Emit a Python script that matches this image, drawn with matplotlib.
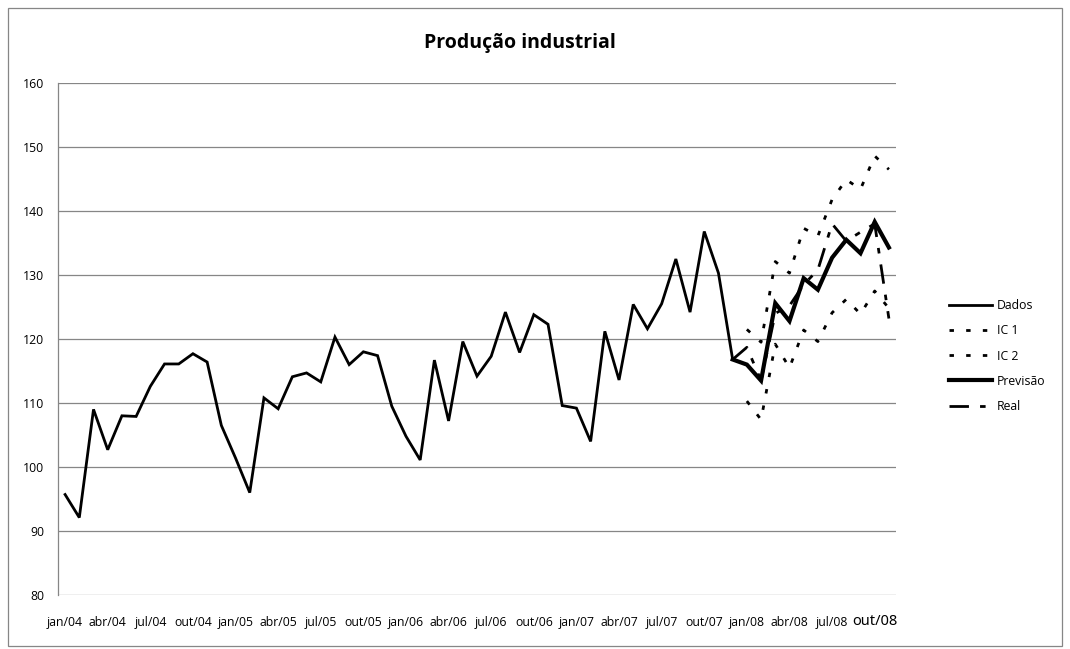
#!/usr/bin/env python3
"""
Produção industrial - dados, previsão, intervalos de confiança e valores reais
"""

import matplotlib
matplotlib.use("Agg")
import matplotlib.pyplot as plt

# months jan/04 .. nov/08 (59 categories), label every 3rd month
months = ["jan", "fev", "mar", "abr", "mai", "jun", "jul", "ago", "set", "out", "nov", "dez"]
categories = [f"{m}/{y:02d}" for y in range(4, 9) for m in months][:59]

# historical data jan/04 .. dez/07
dados = [95.7, 92.1, 109.0, 102.7, 108.0, 107.9, 112.6, 116.1, 116.1, 117.7, 116.4, 106.5,
         101.4, 96.0, 110.8, 109.1, 114.1, 114.7, 113.3, 120.3, 116.0, 118.0, 117.4, 109.5,
         104.8, 101.1, 116.7, 107.2, 119.6, 114.2, 117.3, 124.2, 117.9, 123.8, 122.3, 109.6,
         109.2, 104.0, 121.2, 113.6, 125.4, 121.6, 125.5, 132.5, 124.2, 136.8, 130.3, 116.8]

# forecast dez/07 .. nov/08
previsao = [116.8, 116.0, 113.5, 125.6, 122.8, 129.5, 127.7, 132.7, 135.5, 133.4, 138.3, 134.3]
# confidence bounds jan/08 .. nov/08
ic1 = [121.5, 119.5, 132.1, 130.3, 137.3, 136.1, 141.8, 144.9, 143.4, 148.6, 146.5]
ic2 = [110.3, 107.4, 119.2, 115.5, 121.4, 119.6, 124.1, 126.2, 123.9, 127.5, 124.8]
# actual values dez/07 .. nov/08
real = [116.8, 118.7, 113.5, 124.0, 125.2, 128.5, 130.8, 138.0, 135.3, 136.7, 138.0, 123.2]

x_dados = list(range(0, len(dados)))
x_prev = list(range(47, 47 + len(previsao)))
x_ic = list(range(48, 48 + len(ic1)))
x_real = list(range(47, 47 + len(real)))

plt.rcParams["font.family"] = ["Open Sans", "DejaVu Sans"]

fig = plt.figure(figsize=(10.70, 6.49), dpi=100)
ax = fig.add_axes([58 / 1070, 1 - 595 / 649, (896 - 58) / 1070, (595 - 83) / 649])

ax.plot(x_dados, dados, color="black", linewidth=2.0, label="Dados", solid_joinstyle="miter")
ax.plot(x_ic, ic1, color="black", linewidth=2.0, linestyle=(0, (1.6, 4.4)), label="IC 1")
ax.plot(x_ic, ic2, color="black", linewidth=2.0, linestyle=(0, (1.6, 4.4)), label="IC 2")
ax.plot(x_prev, previsao, color="black", linewidth=3.0, label="Previsão", solid_joinstyle="miter")
ax.plot(x_real, real, color="black", linewidth=2.0, linestyle=(0, (7, 4, 2, 4)), label="Real")

ax.set_xlim(-0.5, len(categories) - 0.5)
ax.set_ylim(80, 160)
ax.set_yticks(range(80, 161, 10))
ax.set_xticks(range(0, len(categories), 3))
ax.set_xticklabels(categories[::3])
ax.tick_params(axis="both", length=0, labelsize=8.8, colors="black")
ax.tick_params(axis="y", pad=10)
ax.tick_params(axis="x", pad=15)
last = ax.get_xticklabels()[-1]
last.set_fontsize(10.5)
last.set_fontfamily(["Noto Sans", "DejaVu Sans"])
last.set_y(0.004)

ax.grid(axis="y", color="#868686", linewidth=0.9)
ax.set_axisbelow(True)
for side in ["top", "right", "bottom"]:
    ax.spines[side].set_visible(False)
ax.spines["left"].set_color("#868686")
ax.spines["left"].set_linewidth(0.9)

fig.text(520 / 1070, 1 - 43 / 649, "Produção industrial",
         ha="center", va="center", fontsize=14, fontweight="bold")

fig.legend(loc="center left", bbox_to_anchor=(938 / 1070, 1 - 356 / 649), frameon=False,
           fontsize=8.8, handlelength=3.5, handletextpad=0.4, labelspacing=1.0)

# outer chart border
fig.patches.append(plt.Rectangle((8 / 1070, 0.004), 1 - 16 / 1070, 1 - 0.016, transform=fig.transFigure,
                                 fill=False, edgecolor="#868686", linewidth=0.9))

plt.savefig("out.png", dpi=100)
